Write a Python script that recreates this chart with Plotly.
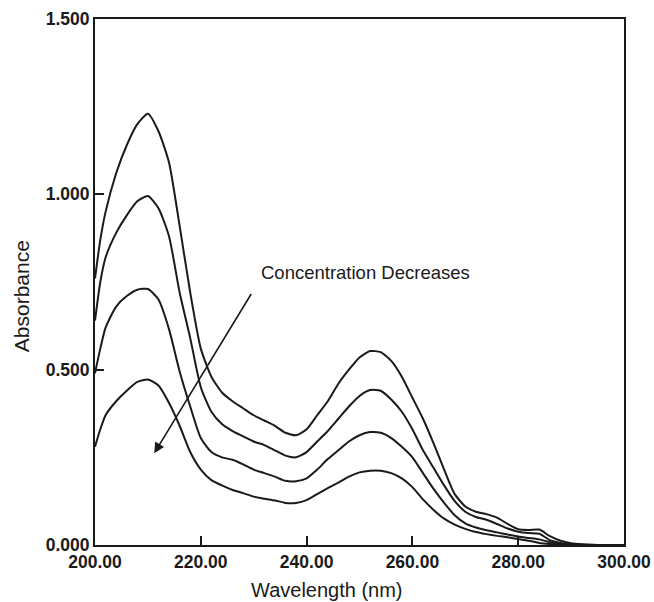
import plotly.graph_objects as go

wavelength = [200, 201, 202, 204, 206, 208, 210, 212, 214, 216, 218, 220, 222, 224, 226, 228,
              230, 232, 234, 236, 238, 240, 242, 244, 246, 248, 250, 252, 254, 256, 258,
              260, 262, 264, 266, 268, 270, 272, 274, 276, 278, 280, 282, 284, 286, 288,
              290, 292, 295, 300]

abs_1 = [0.76, 0.87, 0.95, 1.06, 1.14, 1.20, 1.23, 1.18, 1.09, 0.91, 0.72, 0.56, 0.48, 0.435,
         0.41, 0.39, 0.37, 0.355, 0.34, 0.32, 0.313, 0.33, 0.37, 0.41, 0.46, 0.50, 0.535,
         0.553, 0.55, 0.525, 0.48, 0.42, 0.36, 0.29, 0.215, 0.145, 0.11, 0.095, 0.088,
         0.078, 0.06, 0.045, 0.043, 0.044, 0.025, 0.012, 0.005, 0.002, 0.0, 0.0]

abs_2 = [0.64, 0.75, 0.82, 0.89, 0.94, 0.98, 0.995, 0.96, 0.88, 0.72, 0.59, 0.45, 0.38, 0.345,
         0.325, 0.31, 0.295, 0.285, 0.27, 0.255, 0.25, 0.265, 0.295, 0.325, 0.36, 0.395,
         0.425, 0.442, 0.44, 0.415, 0.38, 0.33, 0.27, 0.22, 0.17, 0.125, 0.095, 0.08, 0.072,
         0.06, 0.047, 0.038, 0.034, 0.032, 0.014, 0.006, 0.002, 0.001, 0.0, 0.0]

abs_3 = [0.49, 0.56, 0.62, 0.68, 0.71, 0.728, 0.73, 0.70, 0.615, 0.495, 0.395, 0.305, 0.265,
         0.25, 0.243, 0.23, 0.215, 0.205, 0.195, 0.183, 0.182, 0.19, 0.215, 0.245, 0.27,
         0.295, 0.313, 0.322, 0.32, 0.305, 0.28, 0.25, 0.205, 0.16, 0.12, 0.085, 0.062,
         0.05, 0.042, 0.036, 0.03, 0.024, 0.02, 0.016, 0.008, 0.003, 0.001, 0.0, 0.0, 0.0]

abs_4 = [0.28, 0.33, 0.37, 0.41, 0.44, 0.465, 0.472, 0.455, 0.405, 0.34, 0.265, 0.215, 0.185,
         0.17, 0.157, 0.148, 0.138, 0.132, 0.127, 0.12, 0.12, 0.128, 0.145, 0.162, 0.178,
         0.195, 0.207, 0.212, 0.212, 0.205, 0.19, 0.165, 0.13, 0.10, 0.075, 0.058, 0.046,
         0.037, 0.031, 0.026, 0.022, 0.017, 0.012, 0.006, 0.003, 0.001, 0.0, 0.0, 0.0, 0.0]

x_ticks = [200, 220, 240, 260, 280, 300]
y_ticks = [0, 0.5, 1.0, 1.5]

ink = "#1a1a1a"
fig = go.Figure()
for series in [abs_1, abs_2, abs_3, abs_4]:
    fig.add_trace(go.Scatter(x=wavelength, y=series, mode="lines",
                             line=dict(color=ink, width=2, shape="spline", smoothing=0.6),
                             showlegend=False, hoverinfo="skip"))

axis_common = dict(showline=True, linecolor=ink, linewidth=2, mirror=True,
                   ticks="inside", ticklen=9, tickwidth=1.5, tickcolor=ink,
                   showgrid=False, zeroline=False, automargin=False,
                   tickfont=dict(family="Liberation Sans, Arial", size=17.5, color=ink, weight="bold"))

fig.update_layout(
    width=654, height=602,
    margin=dict(l=95, r=30, t=19, b=57),
    plot_bgcolor="white", paper_bgcolor="white",
    xaxis=dict(range=[200, 300], tickvals=x_ticks, tickformat=".2f", **axis_common),
    yaxis=dict(range=[0, 1.5], tickvals=y_ticks, tickformat=".3f", **axis_common),
    annotations=[
        dict(text="Wavelength (nm)", xref="paper", yref="paper", x=0.4386, y=-0.060,
             xanchor="center", yanchor="top", showarrow=False,
             font=dict(family="Liberation Sans, Arial", size=20, color=ink)),
        dict(text="Absorbance", xref="paper", yref="paper", x=-0.1386, y=0.4724,
             xanchor="center", yanchor="middle", textangle=-90, showarrow=False,
             font=dict(family="Liberation Sans, Arial", size=21, color=ink)),
        dict(text="Concentration Decreases", xref="x", yref="y", x=251.2, y=0.777,
             xanchor="center", yanchor="middle", showarrow=False,
             font=dict(family="Liberation Sans, Arial", size=18.5, color=ink)),
        dict(text="", xref="x", yref="y", x=211.2, y=0.262, axref="x", ayref="y",
             ax=229.7, ay=0.72, showarrow=True, arrowhead=2, arrowsize=1.3,
             arrowwidth=1.6, arrowcolor=ink),
    ],
)

fig.write_html("out.html",
               config={"displayModeBar": False},
               post_script="document.body.style.margin='0px';document.body.style.overflow='hidden';")
